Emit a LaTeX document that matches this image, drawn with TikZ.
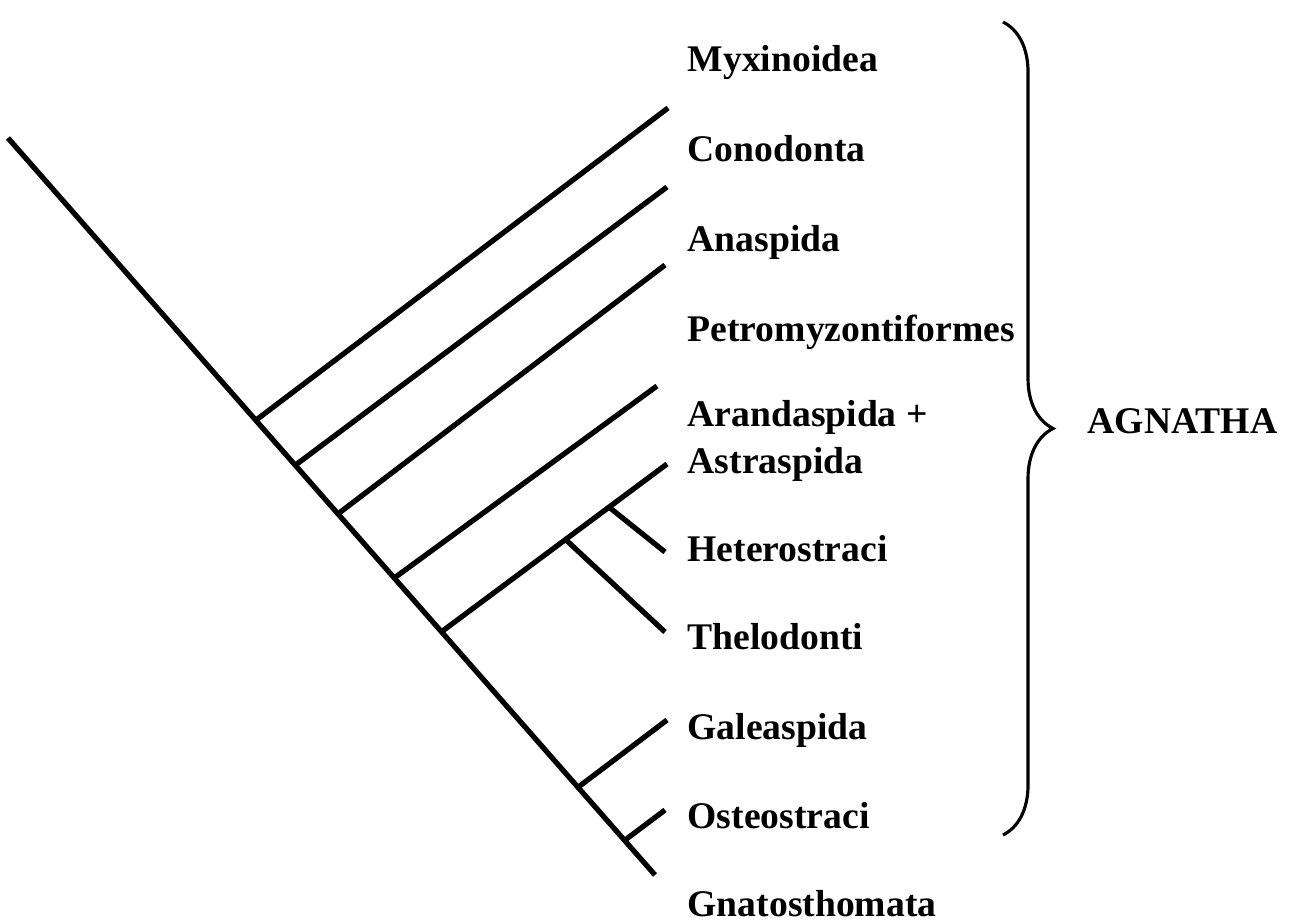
\documentclass[tikz,border=0pt]{standalone}
\usepackage{fontspec}
\setmainfont{Liberation Serif}
\usepackage{tikz}
\usetikzlibrary{calc,decorations.pathreplacing}

\begin{document}
\begin{tikzpicture}[x=0.01cm,y=-0.01cm,
  branch/.style={line width=1.5pt},
  taxon/.style={anchor=base west,inner sep=0pt,font=\fontsize{10.7}{12}\selectfont\bfseries}]
  \useasboundingbox (0,0) rectangle (1291,921);
  \coordinate (root) at (8,138);
  \coordinate (tip) at (655,875);
  \coordinate (j1) at ($(root)!0.383!(tip)$);
  \coordinate (j2) at ($(root)!0.444!(tip)$);
  \coordinate (j3) at ($(root)!0.510!(tip)$);
  \coordinate (j4) at ($(root)!0.597!(tip)$);
  \coordinate (j5) at ($(root)!0.670!(tip)$);
  \coordinate (j6) at ($(root)!0.881!(tip)$);
  \coordinate (j7) at ($(root)!0.953!(tip)$);
  \coordinate (e1) at (668,108);
  \coordinate (e2) at (667,187);
  \coordinate (e3) at (665,265);
  \coordinate (e4) at (657,386);
  \coordinate (e5) at (667,464);
  \coordinate (k1) at ($(j5)!0.55!(e5)$);
  \coordinate (k2) at ($(j5)!0.743!(e5)$);
  \coordinate (eh) at (665,552);
  \coordinate (et) at (665,632);
  \coordinate (eg) at (667,720);
  \coordinate (eo) at (665,810);

  \draw[branch] (root) -- (tip);
  \draw[branch] (j1) -- (e1);
  \draw[branch] (j2) -- (e2);
  \draw[branch] (j3) -- (e3);
  \draw[branch] (j4) -- (e4);
  \draw[branch] (j5) -- (e5);
  \draw[branch] (k1) -- (et);
  \draw[branch] (k2) -- (eh);
  \draw[branch] (j6) -- (eg);
  \draw[branch] (j7) -- (eo);

  \node[taxon] (myx) at (687,71) {Myxinoidea};
  \node[taxon] (cono) at (687,161) {Conodonta};
  \node[taxon] (ana) at (687,251) {Anaspida};
  \node[taxon] (petro) at (687,341) {Petromyzontiformes};
  \node[taxon] (aran) at (687,426) {Arandaspida +};
  \node[taxon] (astr) at (687,473) {Astraspida};
  \node[taxon] (het) at (687,561) {Heterostraci};
  \node[taxon] (thel) at (687,649) {Thelodonti};
  \node[taxon] (gal) at (687,739) {Galeaspida};
  \node[taxon] (ost) at (687,828) {Osteostraci};
  \node[taxon] (gna) at (687,916) {Gnatosthomata};

  \draw[line width=0.9pt,decorate,decoration={brace,amplitude=0.5cm}] (1003,22) -- (1003,835);
  \node[taxon] (agn) at (1087,433) {AGNATHA};
\end{tikzpicture}
\end{document}
